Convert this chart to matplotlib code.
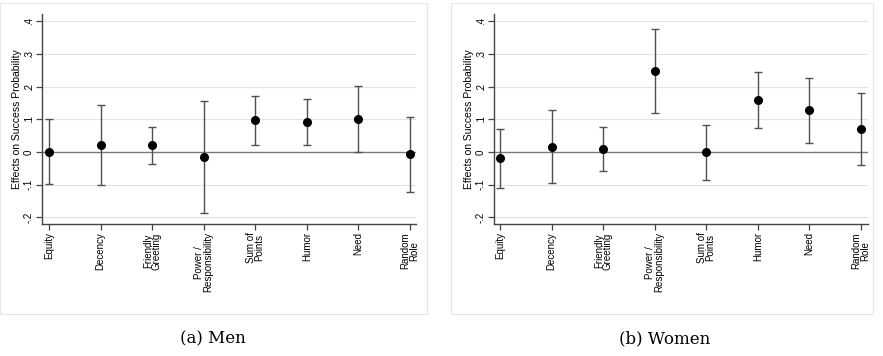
import matplotlib
matplotlib.use("Agg")
import matplotlib.pyplot as plt
from matplotlib.patches import Rectangle
import numpy as np

categories = ["Equity", "Decency", "Friendly\nGreeting", "Power /\nResponsibility",
              "Sum of\nPoints", "Humor", "Need", "Random\nRole"]
men_est = [0.000, 0.022, 0.020, -0.015, 0.097, 0.093, 0.100, -0.007]
men_lo = [-0.098, -0.100, -0.037, -0.186, 0.021, 0.023, -0.001, -0.122]
men_hi = [0.102, 0.145, 0.078, 0.157, 0.172, 0.161, 0.202, 0.107]
women_est = [-0.018, 0.016, 0.010, 0.247, -0.001, 0.159, 0.127, 0.069]
women_lo = [-0.109, -0.095, -0.058, 0.118, -0.086, 0.074, 0.028, -0.041]
women_hi = [0.071, 0.129, 0.078, 0.376, 0.084, 0.244, 0.226, 0.181]
yticks = [-0.2, -0.1, 0.0, 0.1, 0.2, 0.3, 0.4]
yticklabels = ["-.2", "-.1", "0", ".1", ".2", ".3", ".4"]
captions = ["(a) Men", "(b) Women"]

W, H = 883, 356
fig = plt.figure(figsize=(W / 100, H / 100), dpi=100)
plt.rcParams['font.family'] = ['Liberation Sans', 'DejaVu Sans']

def fx(px):
    return px / W

def fy(py):
    return 1 - py / H

panels = [
    dict(box=(0, 3, 427, 314), ax=(42, 14, 416, 224), xlim=(0.86, 8.12),
         est=men_est, lo=men_lo, hi=men_hi, cap=captions[0], capx=213),
    dict(box=(451, 3, 873, 314), ax=(494, 14, 868, 224), xlim=(0.88, 8.14),
         est=women_est, lo=women_lo, hi=women_hi, cap=captions[1], capx=665),
]

for p in panels:
    bx0, by0, bx1, by1 = p["box"]
    fig.patches.append(Rectangle((fx(bx0), fy(by1)), fx(bx1 - bx0), (by1 - by0) / H,
                                 transform=fig.transFigure, facecolor="white",
                                 edgecolor="#e6e6e6", linewidth=0.8, zorder=-5))
    ax0, ay0, ax1, ay1 = p["ax"]
    ax = fig.add_axes([fx(ax0), fy(ay1), fx(ax1 - ax0), (ay1 - ay0) / H])
    ax.set_zorder(2)
    ax.set_facecolor("none")
    x = np.arange(1, len(categories) + 1)
    est = np.array(p["est"])
    lo = np.array(p["lo"])
    hi = np.array(p["hi"])
    for yv in yticks:
        if yv == 0:
            ax.axhline(0, color="#7a7a7a", lw=1.0, zorder=1)
        else:
            ax.axhline(yv, color="#e3e3e3", lw=0.8, zorder=0.5)
    ax.errorbar(x, est, yerr=[est - lo, hi - est], fmt="o", color="black",
                ecolor="#505050", elinewidth=1.0, capsize=3.0, capthick=1.0,
                markersize=5.5, zorder=3)
    ax.set_xlim(*p["xlim"])
    ax.set_ylim(-0.22, 0.422)
    ax.set_yticks(yticks)
    ax.set_yticklabels(yticklabels, rotation=90, va="center", fontsize=7)
    ax.set_xticks(x)
    ax.set_xticklabels(categories, rotation=90, fontsize=7, linespacing=0.85)
    for s in ["top", "right"]:
        ax.spines[s].set_visible(False)
    for s in ["left", "bottom"]:
        ax.spines[s].set_color("#444444")
        ax.spines[s].set_linewidth(1.0)
    ax.tick_params(axis="both", length=4, width=0.9, color="#444444", pad=2)
    ax.set_ylabel("Effects on Success Probability", fontsize=7.5, labelpad=1)
    fig.text(fx(p["capx"]), fy(339), p["cap"], ha="center", va="center",
             fontsize=12, family=["DejaVu Serif"], zorder=3)

fig.savefig("out.png", dpi=100)
